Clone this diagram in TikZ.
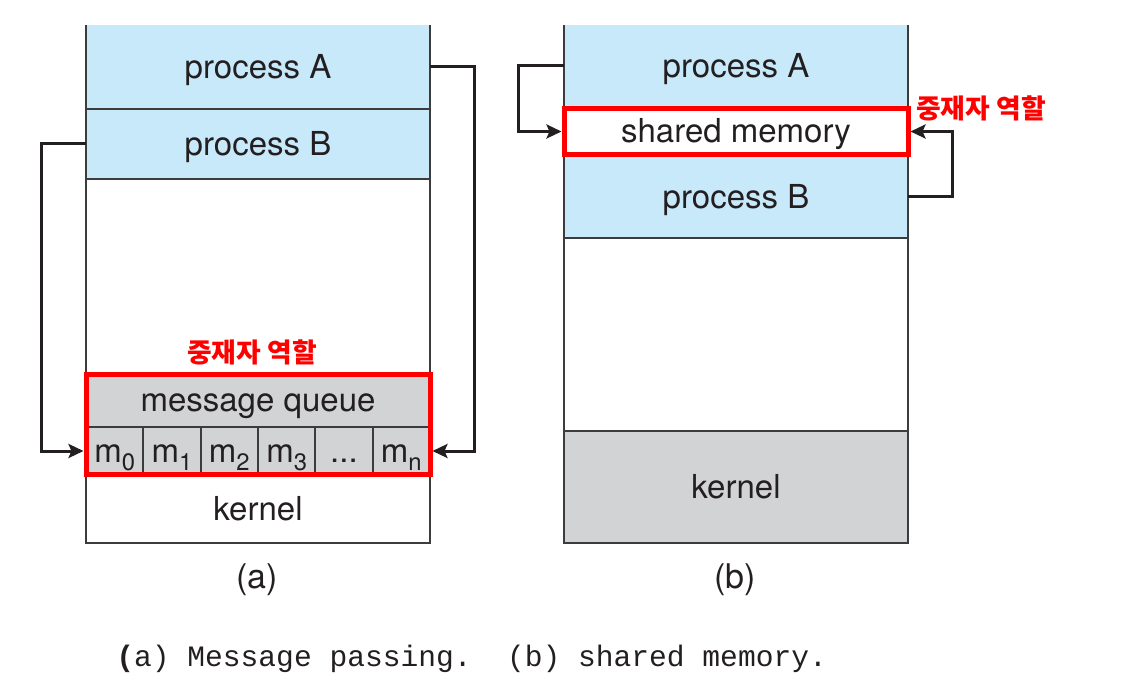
\documentclass[tikz,border=0pt]{standalone}
\usepackage{fontspec}
\setmainfont{TeX Gyre Heros}
\newfontfamily\korfont{Noto Sans CJK KR}
\newfontfamily\capfont{Liberation Mono}
\usetikzlibrary{arrows.meta, positioning}
\definecolor{procblue}{RGB}{199,233,249}
\definecolor{kerngray}{RGB}{209,211,212}
\definecolor{inkdark}{HTML}{231F20}
\definecolor{linegray}{RGB}{60,60,60}
\definecolor{mediatorred}{RGB}{255,0,0}
\newlength\px
\setlength\px{0.5pt}
\newcommand\msub[1]{m\raisebox{-0.22em}{\fontsize{11.9}{12}\selectfont #1}}
\tikzset{
  memrow/.style={minimum width=344\px, inner sep=0pt, outer sep=0pt, text=inkdark,
    font=\fontsize{16.5}{20}\selectfont, text height=11.9pt, text depth=0pt},
  memcell/.style={memrow, minimum width=57.33\px, minimum height=48\px, fill=kerngray,
    draw=linegray, line width=.9pt},
  colline/.style={draw=linegray, line width=.9pt},
  mediator/.style={draw=mediatorred, line width=2.5pt, inner sep=0pt, minimum width=344\px},
  mediatorlabel/.style={text=mediatorred, inner sep=0pt, font=\korfont\bfseries\fontsize{13.4}{15}\selectfont},
  msgarrow/.style={draw=inkdark, line width=1.5pt, -{Stealth[length=7.5pt, width=7pt, inset=1.5pt]}},
  sublabel/.style={text=inkdark, inner sep=0pt, font=\fontsize{17}{20}\selectfont},
  capline/.style={text=inkdark, inner sep=0pt, font=\capfont\fontsize{14.8}{18}\selectfont}
}
\begin{document}
\begin{tikzpicture}[x=0.5pt, y=-0.5pt]
  \useasboundingbox (0,0) rectangle (1140,679);
  % (a) message passing
  \node[memrow, fill=procblue, minimum height=84\px] (aProcA) at (258,67) {process A};
  \node[memrow, fill=procblue, minimum height=70\px] (aProcB) at (258,144) {process B};
  \node[memrow, fill=kerngray, minimum height=54\px] (aQueue) at (258,400) {message queue};
  \foreach \i/\m in {0/{\msub{0}},1/{\msub{1}},2/{\msub{2}},3/{\msub{3}},4/{...},5/{\msub{n}}}
    \node[memcell] (c\i) at ({86+344/6*(\i+.5)},451) {\m};
  \node[memrow, minimum height=68\px] (aKern) at (258,509) {kernel};
  \draw[colline] (aProcA.north west) -- (aKern.south west) -- (aKern.south east) -- (aProcA.north east);
  \draw[colline] (aProcA.south west) -- (aProcA.south east)
    (aProcB.south west) -- (aProcB.south east)
    (aQueue.south west) -- (aQueue.south east);
  \node[mediator, minimum height=100\px] (mqBox) at (258,424.5) {};
  \node[mediatorlabel] (mqLabel) at (252,352) {중재자 역할};
  \draw[msgarrow] (aProcB.west) -- ++(-45,0) |- (mqBox.west |- c0);
  \draw[msgarrow] (aProcA.east) -- ++(44,0) |- (mqBox.east |- c5);
  \node[sublabel] (aCap) at (257,580) {(a)};
  % (b) shared memory
  \node[memrow, fill=procblue, minimum height=82\px] (bProcA) at (736,66) {process A};
  \node[memrow, minimum height=48\px] (bShared) at (736,131) {shared memory};
  \node[memrow, fill=procblue, minimum height=83\px] (bProcB) at (736,196.5) {process B};
  \node[memrow, fill=kerngray, minimum height=112\px] (bKern) at (736,487) {kernel};
  \draw[colline] (bProcA.north west) -- (bKern.south west) -- (bKern.south east) -- (bProcA.north east);
  \draw[colline] (bProcB.south west) -- (bProcB.south east)
    (bKern.north west) -- (bKern.north east);
  \node[mediator, minimum height=46\px] (smBox) at (736,131.5) {};
  \node[mediatorlabel] (smLabel) at (981,108) {중재자 역할};
  \draw[msgarrow] (bProcA.west) -- ++(-46,0) |- (smBox.west);
  \draw[msgarrow] (bProcB.east) -- ++(44,0) |- (smBox.east);
  \node[sublabel] (bCap) at (735,580) {(b)};
  % caption
  \node[capline, anchor=west] (figCap) at (116,659) {\textbf{(}a) Message passing.\ \ (b) shared memory.};
\end{tikzpicture}
\end{document}
